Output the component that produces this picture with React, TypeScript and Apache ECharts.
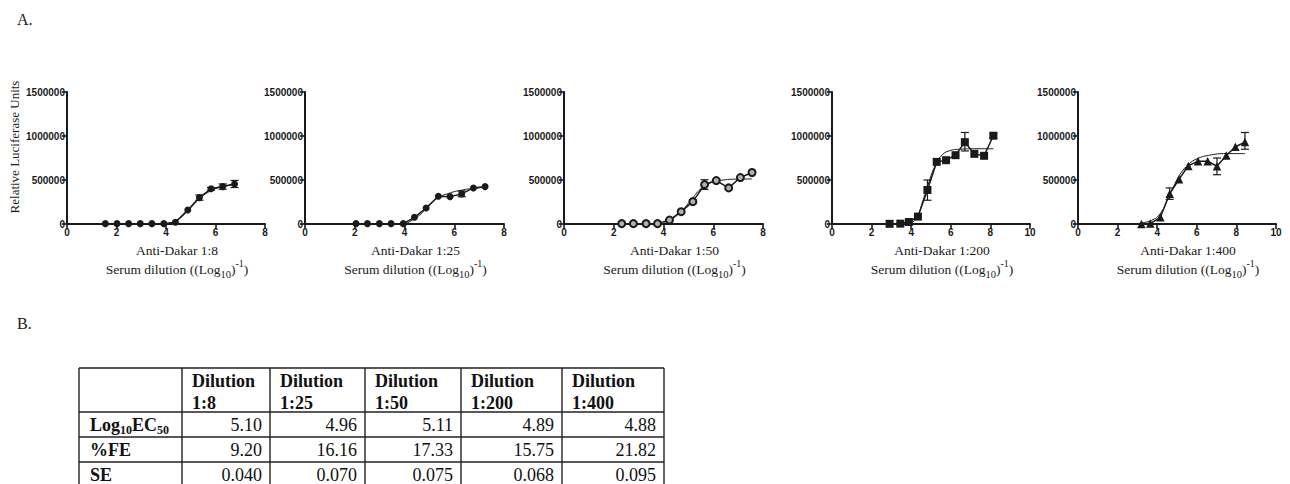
import React, { useEffect, useRef } from "react";
import * as echarts from "echarts";

// ---------- DATA ----------
const panelTitles = ["Anti-Dakar 1:8", "Anti-Dakar 1:25", "Anti-Dakar 1:50", "Anti-Dakar 1:200", "Anti-Dakar 1:400"];
const xMaxes = [8, 8, 8, 10, 10];
const yMax = 1500000;
const yInterval = 500000;
const xInterval = 2;
const symbols = ["circle", "circle", "openCircle", "rect", "triangle"];

// measured points [log dilution, RLU]
const pts8 = [[1.55, 4000], [2.02, 4000], [2.49, 4000], [2.96, 4000], [3.43, 4000], [3.91, 4000], [4.38, 20000], [4.88, 160000], [5.35, 300000], [5.82, 400000], [6.29, 425000], [6.77, 455000]];
const pts25 = [[2.05, 4000], [2.51, 4000], [2.99, 4000], [3.46, 4000], [3.95, 4000], [4.4, 76000], [4.87, 182000], [5.36, 315000], [5.83, 311000], [6.3, 342000], [6.77, 410000], [7.24, 425000]];
const pts50 = [[2.32, 4000], [2.79, 4000], [3.3, 4000], [3.76, 4000], [4.24, 45000], [4.71, 140000], [5.18, 254000], [5.65, 448000], [6.12, 494000], [6.62, 410000], [7.09, 528000], [7.56, 585000]];
const pts200 = [[2.91, 2000], [3.45, 4000], [3.88, 23000], [4.34, 84000], [4.82, 387000], [5.29, 706000], [5.76, 725000], [6.24, 782000], [6.71, 930000], [7.19, 797000], [7.68, 775000], [8.15, 1003000]];
const pts400 = [[3.2, 0], [3.65, 5000], [4.16, 76000], [4.63, 343000], [5.1, 508000], [5.57, 660000], [6.06, 714000], [6.55, 714000], [7.02, 656000], [7.49, 779000], [7.95, 878000], [8.43, 931000]];

// error bars [x, low, high]
const err8 = [[5.35, 270000, 330000], [5.82, 385000, 415000], [6.29, 395000, 455000], [6.77, 415000, 495000]];
const err25 = [[6.3, 310000, 375000]];
const err50 = [[5.65, 393000, 503000]];
const err200 = [[4.82, 270000, 500000], [6.71, 830000, 1040000], [8.15, 978000, 1028000]];
const err400 = [[4.63, 280000, 410000], [7.02, 560000, 750000], [8.43, 850000, 1040000]];

// fitted curves
const fit8 = [[1.55, 0], [3.5, 0], [4.0, 6000], [4.4, 38000], [4.8, 125000], [5.1, 215000], [5.4, 300000], [5.8, 375000], [6.3, 425000], [6.77, 448000]];
const fit25 = [[2.05, 0], [3.9, 5000], [4.4, 60000], [4.9, 180000], [5.3, 290000], [5.8, 350000], [6.3, 385000], [6.8, 405000], [7.24, 415000]];
const fit50 = [[2.32, 0], [3.9, 5000], [4.24, 40000], [4.7, 140000], [5.1, 270000], [5.5, 400000], [5.9, 470000], [6.4, 500000], [7.0, 510000], [7.56, 512000]];
const fit200 = [[2.91, 0], [3.9, 10000], [4.3, 90000], [4.6, 270000], [4.9, 480000], [5.2, 660000], [5.5, 770000], [5.9, 830000], [6.5, 850000], [7.2, 855000], [8.15, 855000]];
const fit400 = [[3.2, 15000], [3.7, 40000], [4.16, 120000], [4.6, 320000], [4.9, 460000], [5.2, 580000], [5.6, 680000], [6.0, 740000], [6.6, 780000], [7.5, 800000], [8.43, 800000]];

const allPts = [pts8, pts25, pts50, pts200, pts400];
const allErr = [err8, err25, err50, err200, err400];
const allFit = [fit8, fit25, fit50, fit200, fit400];

// table
const tableHeadTop = ["Dilution", "Dilution", "Dilution", "Dilution", "Dilution"];
const tableHeadBottom = ["1:8", "1:25", "1:50", "1:200", "1:400"];
const log10EC50 = ["5.10", "4.96", "5.11", "4.89", "4.88"];
const pctFE = ["9.20", "16.16", "17.33", "15.75", "21.82"];
const seVals = ["0.040", "0.070", "0.075", "0.068", "0.095"];

// ---------- LAYOUT ----------
const gridLefts = [67, 305, 564, 832, 1078];
const gridWidths = [198, 199, 199, 198, 198];
const gridTop = 92;
const gridHeight = 132;
const ink = "#1a1a1a";
const serif = "'Liberation Serif', 'Times New Roman', serif";
const sans = "'Liberation Sans', Arial, sans-serif";

const colX = [79, 182, 270, 365, 461, 562, 664];
const rowY = [368, 412, 437, 462, 488];

export default function App() {
  const ref = useRef<HTMLDivElement>(null);
  useEffect(() => {
    if (!ref.current) return;
    const chart = echarts.init(ref.current, undefined, { renderer: "svg" });

    const grid = gridLefts.map((l, i) => ({ left: l, top: gridTop, width: gridWidths[i], height: gridHeight }));
    const xAxis = xMaxes.map((m, i) => ({
      type: "value", gridIndex: i, min: 0, max: m, interval: xInterval,
      axisLine: { show: true, onZero: false, lineStyle: { color: ink, width: 2 } },
      axisTick: { show: true, length: 5, lineStyle: { color: ink, width: 1.6 } },
      axisLabel: { color: ink, fontSize: 10, fontWeight: "bold", fontFamily: sans, margin: 3, formatter: (v: number) => String(v) },
      splitLine: { show: false },
    }));
    const yAxis = xMaxes.map((_, i) => ({
      type: "value", gridIndex: i, min: 0, max: yMax, interval: yInterval,
      axisLine: { show: true, lineStyle: { color: ink, width: 2 } },
      axisTick: { show: true, length: 5, lineStyle: { color: ink, width: 1.6 } },
      axisLabel: { color: ink, fontSize: 10, fontWeight: "bold", fontFamily: sans, margin: 2, formatter: (v: number) => String(v) },
      splitLine: { show: false },
    }));

    const series: any[] = [];
    allPts.forEach((pts, i) => {
      series.push({
        type: "line", xAxisIndex: i, yAxisIndex: i, smooth: true, showSymbol: false, silent: true,
        data: allFit[i], lineStyle: { color: ink, width: 1 }, z: 2,
      });
      series.push({
        type: "custom", xAxisIndex: i, yAxisIndex: i, silent: true, z: 3,
        data: allErr[i],
        encode: { x: 0, y: [1, 2] },
        renderItem: (params: any, api: any) => {
          const x = api.value(0);
          const a = api.coord([x, api.value(1)]);
          const b = api.coord([x, api.value(2)]);
          const st = { stroke: ink, lineWidth: 1.2 };
          return {
            type: "group",
            children: [
              { type: "line", shape: { x1: a[0], y1: a[1], x2: b[0], y2: b[1] }, style: st },
              { type: "line", shape: { x1: a[0] - 4, y1: a[1], x2: a[0] + 4, y2: a[1] }, style: st },
              { type: "line", shape: { x1: b[0] - 4, y1: b[1], x2: b[0] + 4, y2: b[1] }, style: st },
            ],
          };
        },
      });
      const sym = symbols[i];
      const open = sym === "openCircle";
      series.push({
        type: "line", xAxisIndex: i, yAxisIndex: i, silent: true, z: 4,
        data: pts,
        symbol: open ? "circle" : sym,
        symbolSize: sym === "rect" ? 8 : sym === "triangle" ? 8.5 : 7,
        lineStyle: { color: ink, width: 1.5 },
        itemStyle: open
          ? { color: "#b0b0b0", borderColor: ink, borderWidth: 2 }
          : { color: ink, borderColor: ink, borderWidth: 0 },
      });
    });

    const graphic: any[] = [];
    graphic.push({ type: "text", x: 17, y: 19, style: { text: "A.", fontSize: 16, fontFamily: serif, fill: ink, verticalAlign: "middle" } });
    graphic.push({ type: "text", x: 17, y: 323, style: { text: "B.", fontSize: 16, fontFamily: serif, fill: ink, verticalAlign: "middle" } });
    graphic.push({
      type: "text", x: 14, y: 147, rotation: Math.PI / 2,
      style: { text: "Relative Luciferase Units", fontSize: 13, fontFamily: serif, fill: ink, align: "center", verticalAlign: "middle" },
    });

    panelTitles.forEach((t, i) => {
      const cx = gridLefts[i] + gridWidths[i] / 2 + 11;
      graphic.push({ type: "text", x: cx, y: 250, style: { text: t, fontSize: 13.5, fontFamily: serif, fill: ink, align: "center", verticalAlign: "middle" } });
      graphic.push({
        type: "text", x: cx, y: 269,
        style: {
          text: "{a|Serum dilution ((Log}{s|10}{a|)}{p|-1}{a|)}",
          align: "center", verticalAlign: "middle", fill: ink,
          rich: {
            a: { fontSize: 13.5, fontFamily: serif, fill: ink, lineHeight: 22 },
            s: { fontSize: 10.5, fontFamily: serif, fill: ink, lineHeight: 10, verticalAlign: "bottom" },
            p: { fontSize: 10, fontFamily: serif, fill: ink, lineHeight: 10, verticalAlign: "top" },
          },
        },
      });
    });

    // table lines
    const tl = { stroke: "#222", lineWidth: 1.4 };
    rowY.forEach((y) => graphic.push({ type: "line", shape: { x1: colX[0], y1: y, x2: colX[colX.length - 1], y2: y }, style: tl }));
    colX.forEach((x) => graphic.push({ type: "line", shape: { x1: x, y1: rowY[0], x2: x, y2: rowY[rowY.length - 1] }, style: tl }));

    const tf = { fontSize: 18, fontFamily: serif, fill: "#111" };
    tableHeadTop.forEach((h, i) => {
      graphic.push({
        type: "text", x: colX[i + 1] + 10, y: 370,
        style: { ...tf, fontWeight: "bold", text: h + "\n" + tableHeadBottom[i], lineHeight: 22, verticalAlign: "top", align: "left" },
      });
    });
    graphic.push({
      type: "text", x: 90, y: (rowY[1] + rowY[2]) / 2,
      style: {
        text: "{b|Log}{s|10}{b|EC}{s|50}", verticalAlign: "middle", align: "left", fill: "#111",
        rich: {
          b: { fontSize: 18, fontFamily: serif, fontWeight: "bold", fill: "#111", lineHeight: 22 },
          s: { fontSize: 12, fontFamily: serif, fontWeight: "bold", fill: "#111", lineHeight: 12, verticalAlign: "bottom" },
        },
      },
    });
    graphic.push({ type: "text", x: 90, y: (rowY[2] + rowY[3]) / 2, style: { ...tf, fontWeight: "bold", text: "%FE", verticalAlign: "middle" } });
    graphic.push({ type: "text", x: 90, y: (rowY[3] + rowY[4]) / 2, style: { ...tf, fontWeight: "bold", text: "SE", verticalAlign: "middle" } });
    const rows = [log10EC50, pctFE, seVals];
    rows.forEach((vals, r) => {
      vals.forEach((v, c) => {
        graphic.push({
          type: "text", x: colX[c + 2] - 8, y: (rowY[r + 1] + rowY[r + 2]) / 2,
          style: { ...tf, text: v, align: "right", verticalAlign: "middle" },
        });
      });
    });

    chart.setOption({
      animation: false,
      backgroundColor: "#ffffff",
      grid, xAxis, yAxis, series, graphic,
    });
    return () => chart.dispose();
  }, []);
  return <div ref={ref} style={{ position: "absolute", left: 0, top: 0, width: 1290, height: 484 }} />;
}
